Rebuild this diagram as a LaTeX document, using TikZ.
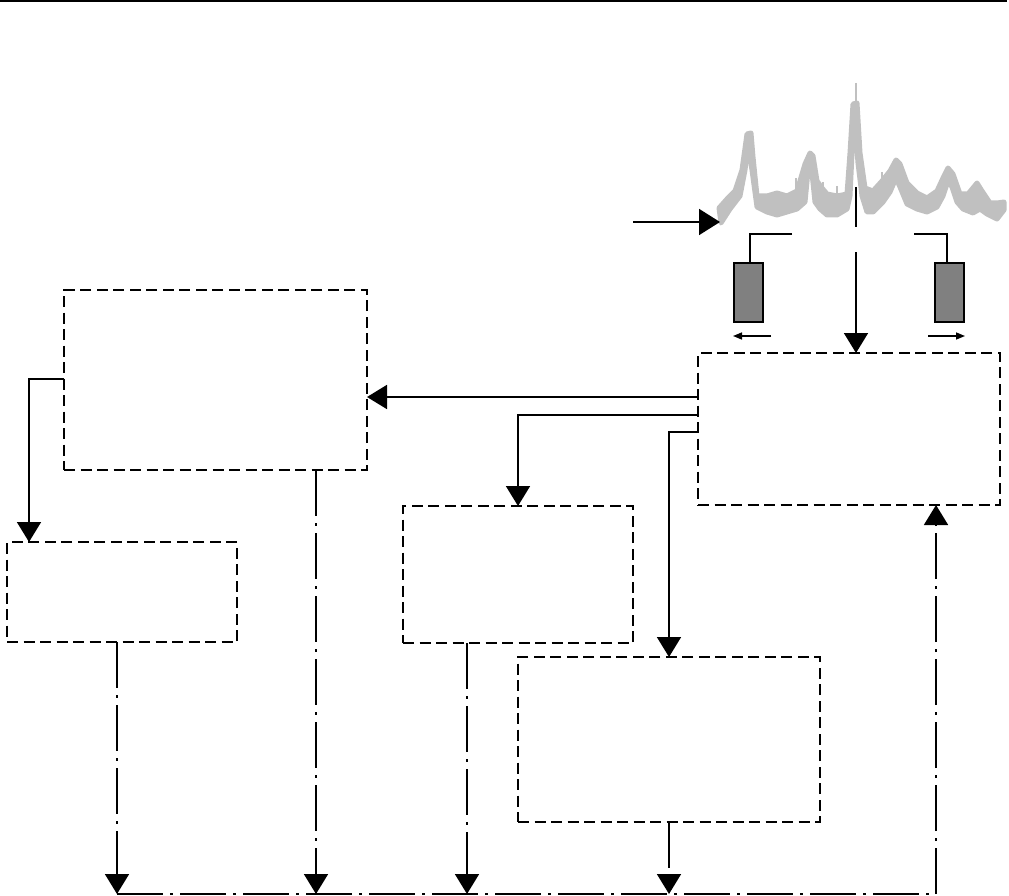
\documentclass[tikz,border=0pt]{standalone}
\usetikzlibrary{arrows.meta,calc}
\definecolor{specgray}{HTML}{C0C0C0}
\definecolor{boxgray}{HTML}{808080}
\begin{document}
\begin{tikzpicture}[x=1pt,y=-1pt,
  box/.style={draw,rectangle,dash pattern=on 11pt off 5.5pt,line width=2.9pt,inner sep=0pt,outer sep=0pt},
  conn/.style={line width=1.8pt},
  bigtip/.style={-{Triangle[length=20pt,width=24pt]}},
  smalltip/.style={-{Triangle[length=9pt,width=7pt]}},
  dd/.style={line width=1.8pt,dash pattern=on 46pt off 7pt on 3pt off 7pt},
  gbox/.style={draw,rectangle,fill=boxgray,line width=1.6pt,minimum width=29pt,minimum height=59pt,inner sep=0pt,outer sep=0pt},
  spec/.style={fill=specgray,draw=specgray,line width=5pt,line join=round},
  spike/.style={draw=specgray,line width=1.2pt}]
\useasboundingbox (0,0) rectangle (1009,896);
% top rule
\draw[line width=2pt] (0,1.5) -- (1007,1.5);

% boxes
\node[box,minimum width=303pt,minimum height=180pt] (A) at (215.5,380) {};
\node[box,minimum width=230pt,minimum height=100pt] (B) at (122,592) {};
\node[box,minimum width=230pt,minimum height=137pt] (C) at (518,574.5) {};
\node[box,minimum width=302pt,minimum height=165pt] (D) at (669,739.5) {};
\node[box,minimum width=302pt,minimum height=152pt] (E) at (849,429) {};

% spectrum
\path[spec] (719,208) -- (727,199) -- (735,191) -- (742,170) -- (747,134) -- (751,133)
  -- (753,157) -- (757,196) -- (767,196) -- (777,193) -- (787,196) -- (797,191)
  -- (805,164) -- (810,153) -- (813,156) -- (817,181) -- (822,188) -- (827,194)
  -- (837,196) -- (847,194) -- (850,153) -- (853,104) -- (857,103) -- (860,153)
  -- (865,188) -- (873,191) -- (882,181) -- (890,171) -- (896,160) -- (900,164)
  -- (907,183) -- (917,193) -- (927,198) -- (937,191) -- (943,178) -- (948,168)
  -- (953,174) -- (960,194) -- (968,194) -- (977,183) -- (982,191) -- (990,203)
  -- (997,203) -- (1004,202)
  -- (1004,210) -- (997,219) -- (987,214) -- (980,209) -- (973,213) -- (963,209)
  -- (957,202) -- (952,187) -- (948,181) -- (943,196) -- (937,207) -- (927,212)
  -- (917,209) -- (907,204) -- (900,187) -- (896,178) -- (890,192) -- (883,202)
  -- (873,212) -- (867,212) -- (862,196) -- (858,163) -- (855,122) -- (852,153)
  -- (850,196) -- (847,209) -- (837,215) -- (827,215) -- (820,209) -- (815,202)
  -- (812,173) -- (808,171) -- (805,202) -- (797,209) -- (787,212) -- (777,215)
  -- (767,212) -- (757,207) -- (752,170) -- (748,145) -- (745,170) -- (740,196)
  -- (730,209) -- (721,223) -- cycle;
\draw[spike] (796,178) -- (796,192);
\draw[spike] (837,186) -- (837,196);
\draw[spike] (856,83) -- (856,104);
\draw[spike] (970,190) -- (970,200);
\draw[spike] (882,172) -- (882,182);
\draw[spike] (823,182) -- (823,190);

% input arrow
\coordinate (in0) at (633,222);
\coordinate (in1) at (720,222);
\draw[conn,-{Triangle[length=21pt,width=26pt]}] (in0) -- (in1);

% central marker line
\coordinate (m0) at (856,187);
\coordinate (m1) at (856,227);
\draw[line width=2pt] (m0) -- (m1);

% gray rectangles and brackets
\node[gbox] (GL) at (748.5,292.5) {};
\node[gbox] (GR) at (949.5,292.5) {};
\coordinate (bl) at (792,234);
\coordinate (br) at (914,234);
\draw[conn] (bl) -| (GL.north -| 750,0);
\draw[conn] (br) -| (GR.north -| 947,0);
\coordinate (al0) at (771,336);
\coordinate (al1) at (733,336);
\coordinate (ar0) at (928,336);
\coordinate (ar1) at (965,336);
\draw[line width=1.5pt,smalltip] (al0) -- (al1);
\draw[line width=1.5pt,smalltip] (ar0) -- (ar1);

% vertical arrow into E
\coordinate (v0) at (856,252);
\draw[conn,bigtip] (v0) -- (E.north -| v0);

% connectors between boxes
\coordinate (xB) at (29,0);
\draw[conn,bigtip] (A.west |- 0,379) -| (B.north -| xB);
\draw[conn,bigtip] (E.west |- 0,397) -- (A.east |- 0,397);
\draw[conn,bigtip] (E.west |- 0,415) -| (C.north);
\draw[conn,bigtip] (E.west |- 0,432) -| (D.north);

% dash-dot bus
\coordinate (b1) at (117,894);
\coordinate (b2) at (316,894);
\coordinate (b3) at (467,894);
\coordinate (b4) at (669,894);
\coordinate (b5) at (936,894);
\draw[dd,bigtip] (B.south -| b1) -- (b1);
\draw[dd,bigtip] (A.south -| b2) -- (b2);
\draw[dd,bigtip] (C.south -| b3) -- (b3);
\draw[dd,bigtip] (D.south -| b4) -- (b4);
\draw[dd,bigtip] (b1) -- (b5) -- (E.south -| b5);
\end{tikzpicture}
\end{document}
